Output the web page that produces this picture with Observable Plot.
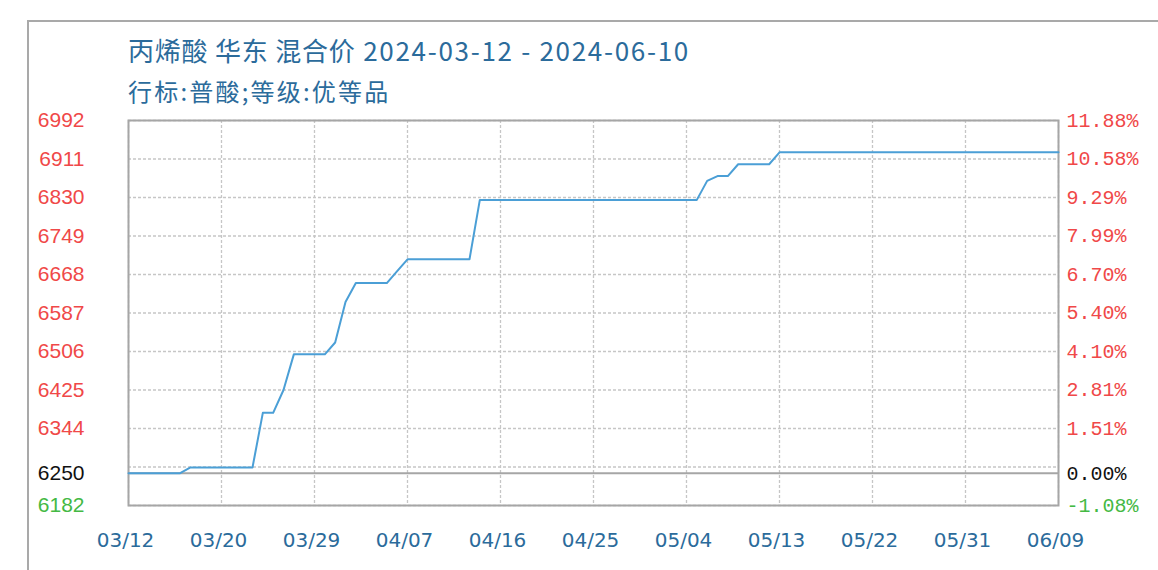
<!DOCTYPE html>
<html>
<head>
<meta charset="utf-8">
<script src="https://cdn.jsdelivr.net/npm/d3@7"></script>
<script src="https://cdn.jsdelivr.net/npm/@observablehq/plot@0.6"></script>
<style>
  html, body { margin: 0; padding: 0; background: #fff; }
  body { width: 1158px; height: 570px; position: relative; overflow: hidden; }
  #border { position: absolute; left: 27px; top: 20px; width: 1200px; height: 600px;
            border-left: 2px solid #a9a9a9; border-top: 2px solid #a9a9a9; box-sizing: border-box; }
  .title { position: absolute; left: 128px; color: #2b6b9b; font-family: "Noto Sans CJK SC", sans-serif; white-space: nowrap; line-height: 1; }
  #t1 { top: 37px; font-size: 26px; }
  #t1 .cn { letter-spacing: 0.8px; }
  #t1 .date { letter-spacing: 1.7px; }
  #t2 { top: 79px; font-size: 24px; letter-spacing: 2.2px; }
  #chart { position: absolute; left: 0; top: 0; }
</style>
</head>
<body>
<div id="border"></div>
<div class="title" id="t1"><span class="cn">丙烯酸 华东 混合价</span><span class="date"> 2024-03-12 - 2024-06-10</span></div>
<div class="title" id="t2">行标:普酸;等级:优等品</div>
<div id="chart"></div>
<script>
// ---- data ----
const baseValue = 6250;
const leftTicks = [6992, 6911, 6830, 6749, 6668, 6587, 6506, 6425, 6344, 6250, 6182];
const rightTickLabels = ["11.88%", "10.58%", "9.29%", "7.99%", "6.70%", "5.40%", "4.10%", "2.81%", "1.51%", "0.00%", "-1.08%"];
const gridValues = [6992, 6911, 6830, 6749, 6668, 6587, 6506, 6425, 6344, 6263, 6182];
const xTickLabels = ["03/12", "03/20", "03/29", "04/07", "04/16", "04/25", "05/04", "05/13", "05/22", "05/31", "06/09"];
const xTickDays = [0, 9, 18, 27, 36, 45, 54, 63, 72, 81, 90];
const dayOffsets = [0, 5, 6, 12, 13, 14, 15, 16, 19, 20, 21, 22, 25, 26, 27, 33, 34, 55, 56, 57, 58, 59, 62, 63, 90];
const prices = [6250, 6250, 6262, 6262, 6377, 6377, 6425, 6500, 6500, 6525, 6610, 6650, 6650, 6675, 6700, 6700, 6825, 6825, 6865, 6875, 6875, 6900, 6900, 6925, 6925];

const series = dayOffsets.map((d, i) => ({day: d, price: prices[i]}));
const red = "#f04848", green = "#44b944", black = "#111";
const labelColor = v => v > baseValue ? red : v < baseValue ? green : black;

const chart = Plot.plot({
  width: 1158,
  height: 570,
  marginTop: 120,
  marginBottom: 65,
  marginLeft: 128,
  marginRight: 100,
  x: {domain: [0, 90], axis: null},
  y: {domain: [6182, 6992], axis: null},
  color: {type: "identity"},
  marks: [
    Plot.ruleY(gridValues, {stroke: "#c6c6c6", strokeWidth: 1.3, strokeDasharray: "3,2"}),
    Plot.ruleX(xTickDays, {stroke: "#c6c6c6", strokeWidth: 1.3, strokeDasharray: "3,2"}),
    Plot.ruleY([baseValue], {stroke: "#a6a6a6", strokeWidth: 2}),
    Plot.frame({stroke: "#a6a6a6", strokeWidth: 2}),
    Plot.line(series, {x: "day", y: "price", stroke: "#4b9fd6", strokeWidth: 2}),
    Plot.text(leftTicks, {
      y: d => d, frameAnchor: "left", textAnchor: "end", dx: -44,
      text: d => String(d), fill: labelColor,
      fontSize: 21, fontFamily: "Liberation Sans"
    }),
    Plot.text(leftTicks, {
      y: d => d, frameAnchor: "right", textAnchor: "start", dx: 8,
      text: (d, i) => rightTickLabels[i], fill: labelColor,
      fontSize: 20, fontFamily: "Liberation Mono"
    }),
    Plot.text(xTickDays, {
      x: d => d, frameAnchor: "bottom", lineAnchor: "middle", dy: 35, dx: -3,
      text: (d, i) => xTickLabels[i], fill: "#2b6b9b",
      fontSize: 20, fontFamily: "DejaVu Sans"
    })
  ]
});
document.getElementById("chart").appendChild(chart);
</script>
</body>
</html>
